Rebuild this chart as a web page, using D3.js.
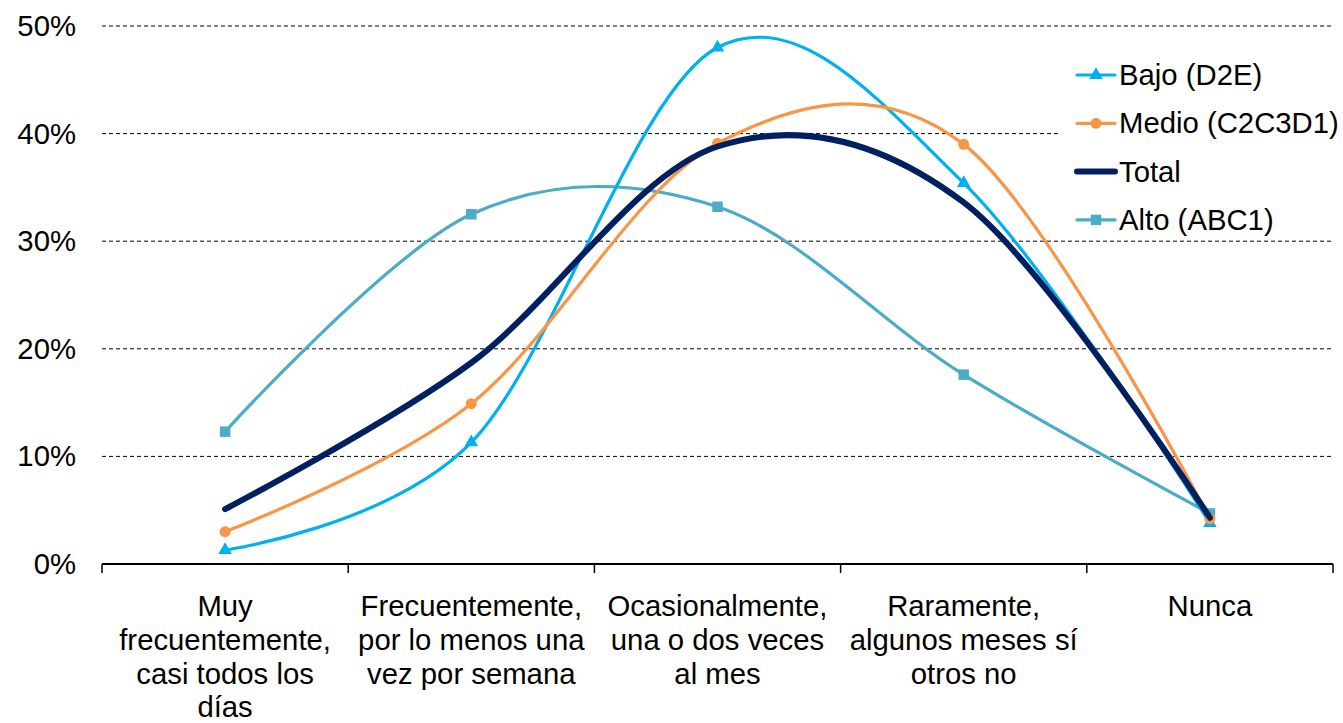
<!DOCTYPE html>
<html><head><meta charset="utf-8">
<script src="https://cdn.jsdelivr.net/npm/d3@7"></script>
<style>body{margin:0;background:#fff}svg{display:block;font-family:"Liberation Sans",Arial,sans-serif}</style>
</head><body><svg id="c" width="1343" height="723"></svg>
<script>
const categories = [
  ["Muy","frecuentemente,","casi todos los","días"],
  ["Frecuentemente,","por lo menos una","vez por semana"],
  ["Ocasionalmente,","una o dos veces","al mes"],
  ["Raramente,","algunos meses sí","otros no"],
  ["Nunca"]
];
const bajo  = [1.3, 11.3, 48.0, 35.4, 3.8];
const medio = [3.0, 14.9, 39.1, 39.0, 4.2];
const total = [5.1, 18.7, 38.8, 33.6, 4.3];
const alto  = [12.3, 32.5, 33.2, 17.6, 4.7];
const yTicks = [0,10,20,30,40,50];
const seriesNames = ["Bajo (D2E)","Medio (C2C3D1)","Total","Alto (ABC1)"];

const FS = 29.3;
const svg = d3.select("#c");
const L=102,R=1333,T=26,B=564;
const x = d3.scaleBand().domain(d3.range(categories.length)).range([L,R]);
const y = d3.scaleLinear().domain([0,50]).range([B,T]);

// gridlines
svg.append("g").selectAll("line").data(yTicks.filter(d=>d>0)).join("line")
  .attr("x1",L).attr("x2",R).attr("y1",d=>y(d)).attr("y2",d=>y(d))
  .attr("stroke","#000").attr("stroke-width",1).attr("stroke-dasharray","4,3");

// y labels
svg.append("g").selectAll("text").data(yTicks).join("text")
  .attr("x",76).attr("y",d=>y(d)+10).attr("text-anchor","end")
  .attr("font-size",FS).attr("fill","#000").text(d=>d+"%");

// x axis
const xa = svg.append("g").attr("transform",`translate(0,${B})`);
xa.append("line").attr("x1",L).attr("x2",R).attr("stroke","#000").attr("stroke-width",2);
const bounds = d3.range(categories.length+1).map(i=> i<categories.length ? x(i) : R);
xa.selectAll("line.t").data(bounds).join("line").attr("class","t")
  .attr("x1",d=>d).attr("x2",d=>d).attr("y1",0).attr("y2",9).attr("stroke","#000").attr("stroke-width",1.5);

// category labels
categories.forEach((lines,i)=>{
  const t = svg.append("text").attr("text-anchor","middle").attr("font-size",FS).attr("fill","#000");
  lines.forEach((ln,j)=>{
    t.append("tspan").attr("x",x(i)+x.bandwidth()/2).attr("y",616+j*33.8).text(ln);
  });
});

const cx = i => x(i)+x.bandwidth()/2;
const line = d3.line().x((d,i)=>cx(i)).y(d=>y(d)).curve(d3.curveCatmullRom.alpha(0));

const tri = d3.symbol().type(d3.symbolTriangle).size(80);
const sq = d3.symbol().type(d3.symbolSquare).size(110);
const circ = d3.symbol().type(d3.symbolCircle).size(95);

const series = [
  {name:seriesNames[3], data:alto, color:"#4BACC6", w:3.2, sym:sq},
  {name:seriesNames[0], data:bajo, color:"#00B0F0", w:3.2, sym:tri},
  {name:seriesNames[1], data:medio, color:"#F79646", w:3.2, sym:circ},
  {name:seriesNames[2], data:total, color:"#002060", w:6, sym:null}
];
series.forEach(s=>{
  svg.append("path").attr("d",line(s.data)).attr("fill","none")
    .attr("stroke",s.color).attr("stroke-width",s.w).attr("stroke-linecap","round");
  if(s.sym){
    svg.append("g").selectAll("path").data(s.data).join("path")
      .attr("transform",(d,i)=>`translate(${cx(i)},${y(d)})`).attr("d",s.sym).attr("fill",s.color);
  }
});

// legend
const lg = svg.append("g");
lg.append("rect").attr("x",1058).attr("y",50).attr("width",285).attr("height",190).attr("fill","#fff");
const legendItems = [series[1],series[2],series[3],series[0]];
legendItems.forEach((s,i)=>{
  const yy = 75+i*48.3;
  lg.append("line").attr("x1",1077).attr("x2",1115).attr("y1",yy).attr("y2",yy)
    .attr("stroke",s.color).attr("stroke-width",s.w).attr("stroke-linecap","round");
  if(s.sym){
    lg.append("path").attr("transform",`translate(1096,${yy})`).attr("d",s.sym).attr("fill",s.color);
  }
  lg.append("text").attr("x",1119).attr("y",yy+10).attr("font-size",FS).attr("fill","#000").text(s.name);
});
</script></body></html>
